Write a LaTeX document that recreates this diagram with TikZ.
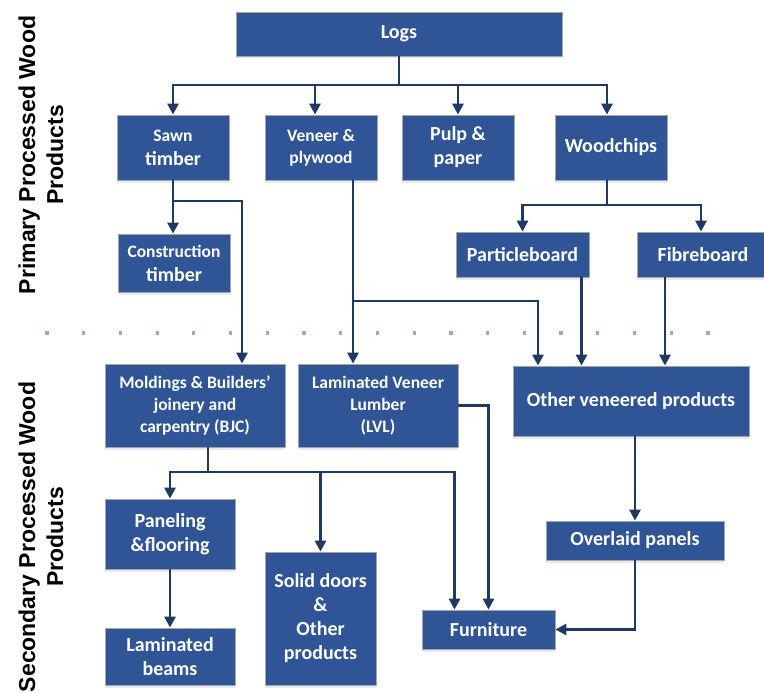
\documentclass[tikz,border=0pt]{standalone}
\usepackage{fontspec}
\setmainfont{Carlito}
\newfontfamily\sidefont{Liberation Sans}
\usetikzlibrary{arrows.meta,shadows}

\definecolor{boxblue}{HTML}{2F5597}
\definecolor{boxrim}{HTML}{A5A5A5}
\definecolor{linknavy}{HTML}{203864}
\definecolor{dotblue}{HTML}{8FAADC}

\tikzset{
  prod/.style={draw=boxrim, line width=0.8pt, fill=boxblue, text=white,
    align=center, inner sep=0pt, font=\bfseries\fontsize{20}{24}\selectfont,
    drop shadow={shadow xshift=0pt, shadow yshift=-2.5pt, fill=boxblue, opacity=0.12}},
  small/.style={font=\bfseries\fontsize{17.5}{22}\selectfont},
  link/.style={draw=linknavy, line width=2.8pt, -{Triangle[length=11pt,width=11pt]}},
  side/.style={font=\sidefont\bfseries\fontsize{23}{28}\selectfont, align=center, rotate=90}
}
\newcommand{\sm}{\fontsize{17.5}{22}\selectfont}

\begin{document}
\begin{tikzpicture}[x=1pt,y=-1pt]
\useasboundingbox (0,0) rectangle (764,693);

% box from its left, top, right and bottom edges
\newcommand{\prodbox}[7][]{
  \node[prod, #1, minimum width={#5-#3}, minimum height={#6-#4}]
    (#2) at ({(#3+#5)/2},{(#4+#6)/2}) {#7};
}

% side headings
\node[side] (primary) at (41,155) {Primary Processed Wood\\Products};
\node[side] (secondary) at (41,537) {Secondary Processed Wood\\Products};

% dotted divider between the two levels
\foreach \i in {0,...,18}
  \fill[dotblue] ({47+36.72*\i-1.6},331.4) rectangle ++(3.2,3.2);

% primary products
\prodbox{logs}{236}{12}{562}{56}{Logs}
\prodbox{sawn}{117}{115}{229}{180}{{\sm Sawn}\\timber}
\prodbox[small]{veneer}{265}{115}{377}{180}{Veneer \&\\plywood}
\prodbox{pulp}{402}{115}{514}{180}{Pulp \&\\paper}
\prodbox{chips}{555}{115}{667}{180}{Woodchips}
\prodbox{constr}{118}{234}{230}{292}{{\sm Construction}\\timber}
\prodbox{particle}{456}{232}{589}{277}{Particleboard}
\prodbox{fibre}{637}{232}{769}{277}{Fibreboard}

% secondary products
\prodbox[small]{bjc}{105}{364}{285}{447}{Moldings \& Builders’\\joinery and\\carpentry (BJC)}
\prodbox[small]{lvl}{298}{364}{458}{447}{Laminated Veneer\\Lumber\\(LVL)}
\prodbox{other}{513}{366}{749}{436}{Other veneered products}
\prodbox{overlaid}{546}{521}{724}{560}{Overlaid panels}
\prodbox{panel}{105}{499}{235}{569}{Paneling\\\&flooring}
\prodbox{beams}{105}{628}{235}{685}{Laminated\\beams}
\prodbox{solid}{265}{552}{376}{685}{Solid doors\\\&\\Other\\products}
\prodbox{furniture}{422}{610}{555}{649}{Furniture}

% logs -> primary
\coordinate (logsplit) at (399,85);
\draw[link] (logs.south) -- (logsplit) -| (sawn.north);
\draw[link] (logsplit) -| ([xshift=-6pt]veneer.north);
\draw[link] (logsplit) -| (pulp.north);
\draw[link] (logsplit) -| ([xshift=-4pt]chips.north);

% sawn timber
\coordinate (sawnsplit) at (173,201);
\draw[link] (sawn.south) -- (sawn.south |- constr.north);
\draw[link] (sawnsplit) -| ([xshift=47pt]bjc.north);

% veneer & plywood
\coordinate (vensplit) at (353,301);
\draw[link] ([xshift=32pt]veneer.south) -- ([xshift=-25pt]lvl.north);
\draw[link] (vensplit) -| ([xshift=-93pt]other.north);

% woodchips
\coordinate (chipsplit) at (607,205);
\draw[link] ([xshift=-4pt]chips.south) -- (chipsplit) -| (particle.north);
\draw[link] (chipsplit) -| ([xshift=-2pt]fibre.north);
\draw[link] ([xshift=59pt]particle.south) -- ([xshift=59pt]particle.south |- other.north);
\draw[link] ([xshift=-38pt]fibre.south) -- ([xshift=-38pt]fibre.south |- other.north);

% secondary links
\draw[link] (lvl.east) -| (furniture.north);
\coordinate (bjcsplit) at (208,472);
\draw[link] ([xshift=13pt]bjc.south) -- (bjcsplit) -| (panel.north);
\draw[link] (bjcsplit) -| (solid.north);
\draw[link] (bjcsplit) -| ([xshift=-34pt]furniture.north);
\draw[link] (panel.south) -- (beams.north);
\draw[link] (overlaid.north |- other.south) -- (overlaid.north);
\draw[link] (overlaid.south) |- (furniture.east);
\end{tikzpicture}
\end{document}
